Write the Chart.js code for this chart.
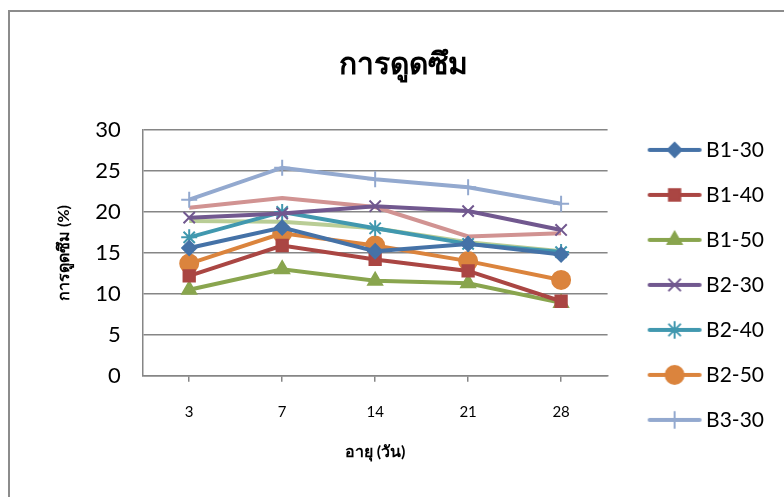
<!DOCTYPE html>
<html>
<head>
<meta charset="utf-8">
<script src="https://cdn.jsdelivr.net/npm/chart.js@4.4.0/dist/chart.umd.min.js"></script>
<style>
  body { margin: 0; background: #fff; }
  #frame { position: absolute; left: 8px; top: 10px; width: 800px; height: 500px; border: 2px solid #8c8c8c; }
  #wrap { position: absolute; left: 0; top: 0; width: 784px; height: 497px; }
</style>
</head>
<body>
<div id="frame"></div>
<div id="wrap"><canvas id="myChart" width="784" height="497"></canvas></div>
<script>
const ages = ['3', '7', '14', '21', '28'];
const seriesNames = ['B1-30', 'B1-40', 'B1-50', 'B2-30', 'B2-40', 'B2-50', 'B3-30', 'B3-40', 'B3-50'];
const b1_30 = [15.6, 18.1, 15.2, 16.1, 14.8];
const b1_40 = [12.2, 15.9, 14.2, 12.8, 9.1];
const b1_50 = [10.5, 13.0, 11.6, 11.3, 8.9];
const b2_30 = [19.3, 19.8, 20.7, 20.1, 17.8];
const b2_40 = [16.9, 20.0, 18.0, 16.1, 15.1];
const b2_50 = [13.7, 17.4, 15.9, 14.0, 11.7];
const b3_30 = [21.5, 25.4, 24.0, 23.0, 21.0];
const b3_40 = [20.5, 21.7, 20.6, 17.0, 17.4];
const b3_50 = [18.9, 18.8, 18.0, 16.3, 15.2];
const yTicks = [0, 5, 10, 15, 20, 25, 30];

const colors = ['#4572A7', '#AA4643', '#89A54E', '#71588F', '#4198AF', '#DB843D', '#93A9CF', '#D19392', '#B9CD96'];
const markers = ['rectRot', 'rect', 'triangle', 'crossRot', 'star', 'circle', 'cross', false, false];
const radii = [7, 8, 8, 8, 8, 9, 8, 0, 0];
const allData = [b1_30, b1_40, b1_50, b2_30, b2_40, b2_50, b3_30, b3_40, b3_50];
const shownInLegend = 7; // the last two entries are cut off in the original

const FONT = 'Lato, "Liberation Sans", sans-serif';

// legend sample: line with the marker in the middle (image is off-centre on purpose)
function legendIcon(i) {
  const c = document.createElement('canvas');
  c.width = 78; c.height = 22;
  const g = c.getContext('2d');
  g.strokeStyle = colors[i];
  g.fillStyle = colors[i];
  g.lineWidth = 4;
  g.lineCap = 'round';
  g.beginPath(); g.moveTo(25, 11); g.lineTo(75, 11); g.stroke();
  if (markers[i]) {
    g.lineWidth = 2;
    Chart.helpers.drawPoint(g, { pointStyle: markers[i], radius: radii[i], borderWidth: 2, rotation: 0 }, 50, 11);
  }
  return c;
}

const datasets = allData.map((d, i) => ({
  label: seriesNames[i],
  data: d,
  borderColor: colors[i],
  backgroundColor: colors[i],
  borderWidth: 4,
  pointStyle: markers[i],
  pointRadius: radii[i],
  pointBorderWidth: 2,
  pointHoverRadius: radii[i],
  tension: 0
}));

const ctx = document.getElementById('myChart').getContext('2d');
const myChart = new Chart(ctx, {
  type: 'line',
  data: { labels: ages, datasets: datasets },
  options: {
    responsive: false,
    animation: false,
    layout: { padding: { left: 32, right: 10, top: 0, bottom: 0 } },
    plugins: {
      title: {
        display: true,
        text: 'การดูดซึม',
        color: '#000',
        font: { size: 30, weight: 'bold', family: FONT },
        padding: { top: 46, bottom: 48 }
      },
      legend: {
        position: 'right',
        align: 'start',
        title: { display: true, text: ' ', padding: { top: 101, bottom: 0 }, font: { size: 12 } },
        labels: {
          usePointStyle: true,
          pointStyleWidth: 64,
          boxHeight: 20,
          padding: 24,
          color: '#000',
          font: { size: 21, family: FONT },
          generateLabels: function (chart) {
            const items = Chart.defaults.plugins.legend.labels.generateLabels(chart);
            return items.slice(0, shownInLegend).map((it, i) => {
              it.pointStyle = legendIcon(i);
              return it;
            });
          }
        }
      },
      tooltip: { enabled: false }
    },
    scales: {
      x: {
        offset: true,
        grid: { display: true, drawOnChartArea: false, offset: false, tickLength: 6, color: '#868686', lineWidth: 1.5 },
        border: { color: '#868686', width: 1.5 },
        ticks: { color: '#000', padding: 21, font: { size: 15, family: FONT } },
        title: {
          display: true,
          text: 'อายุ (วัน)',
          color: '#000',
          padding: { top: 0, bottom: 36 },
          font: { size: 16, weight: 'bold', family: FONT }
        }
      },
      y: {
        min: 0,
        max: 30,
        afterBuildTicks: function (axis) { axis.ticks = yTicks.map(v => ({ value: v })); },
        grid: { color: '#868686', lineWidth: 1.5, drawTicks: false },
        border: { color: '#868686', width: 1.5 },
        ticks: { color: '#000', padding: 22, font: { size: 22, family: FONT } },
        title: {
          display: true,
          text: 'การดูดซึม (%)',
          color: '#000',
          padding: { top: 22, bottom: 0 },
          font: { size: 16, weight: 'bold', family: FONT }
        }
      }
    }
  }
});
</script>
</body>
</html>
